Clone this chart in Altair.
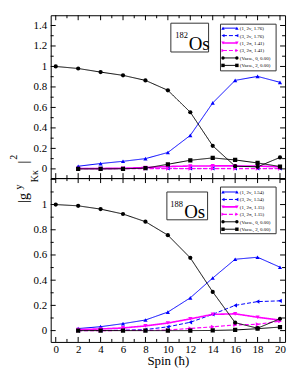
import altair as alt
import pandas as pd

FONT = "Liberation Serif"

spins = [0, 2, 4, 6, 8, 10, 12, 14, 16, 18, 20]
series_keys = ["s1", "s2", "s3", "s4", "s5", "s6"]

# 182Os
os182_1_2nu = [None, 0.026, 0.052, 0.074, 0.100, 0.160, 0.327, 0.644, 0.864, 0.903, 0.845]
os182_3_2nu = [None, 0.004, 0.004, 0.004, 0.004, 0.004, 0.004, 0.004, 0.004, 0.004, 0.004]
os182_1_2pi = [None, 0.003, 0.004, 0.006, 0.013, 0.023, 0.028, 0.029, 0.029, 0.028, 0.020]
os182_3_2pi = [None, 0.001, 0.001, 0.002, 0.003, 0.003, 0.003, 0.003, 0.003, 0.003, 0.003]
os182_vac0 = [1.000, 0.980, 0.945, 0.913, 0.864, 0.767, 0.553, 0.225, 0.026, 0.020, 0.112]
os182_vac2 = [None, 0.000, 0.000, 0.001, 0.007, 0.045, 0.084, 0.107, 0.087, 0.058, 0.023]
labels_182 = ["(1, 2\u03bd, 1.76)", "(3, 2\u03bd, 1.76)", "(1, 2\u03c0, 1.41)",
              "(3, 2\u03c0, 1.41)", "(Vacu., 0, 0.00)", "(Vacu., 2, 0.00)"]

# 188Os
os188_1_2nu = [None, 0.016, 0.031, 0.055, 0.084, 0.147, 0.260, 0.417, 0.566, 0.582, 0.503]
os188_3_2nu = [None, 0.000, 0.001, 0.003, 0.008, 0.030, 0.066, 0.129, 0.200, 0.230, 0.236]
os188_1_2pi = [None, 0.008, 0.013, 0.021, 0.037, 0.060, 0.093, 0.129, 0.133, 0.106, 0.083]
os188_3_2pi = [None, 0.000, 0.000, 0.001, 0.002, 0.004, 0.017, 0.030, 0.045, 0.050, 0.075]
os188_vac0 = [1.000, 0.990, 0.964, 0.925, 0.864, 0.757, 0.577, 0.307, 0.063, 0.019, 0.094]
os188_vac2 = [None, 0.000, 0.000, 0.000, 0.000, 0.000, 0.000, 0.001, 0.005, 0.015, 0.028]
labels_188 = ["(1, 2\u03bd, 1.54)", "(3, 2\u03bd, 1.54)", "(1, 2\u03c0, 1.15)",
              "(3, 2\u03c0, 1.15)", "(Vacu., 0, 0.00)", "(Vacu., 2, 0.00)"]

x_label_values = [0, 2, 4, 6, 8, 10, 12, 14, 16, 18, 20]
x_minor_values = [1, 3, 5, 7, 9, 11, 13, 15, 17, 19]
y_top_labels = [0, 0.2, 0.4, 0.6, 0.8, 1, 1.2, 1.4]
y_top_minor = [0.1, 0.3, 0.5, 0.7, 0.9, 1.1, 1.3]
y_bot_labels = [0, 0.2, 0.4, 0.6, 0.8, 1]
y_bot_major = [0, 0.2, 0.4, 0.6, 0.8, 1, 1.2]
y_bot_minor = [0.1, 0.3, 0.5, 0.7, 0.9, 1.1]

colors = ["#0000ff", "#0000ff", "#ff00ff", "#ff00ff", "#000000", "#000000"]
dashes = [[1, 0], [4, 2], [1, 0], [4, 2], [1, 0], [1, 0]]
shapes = ["triangle-up", "triangle-left", "triangle-down", "triangle-right", "circle", "square"]
widths = [1, 1, 1.6, 1.2, 1, 1]

W = 236
X_DOMAIN = [-0.45, 20.45]


def long_df(cols):
    rows = []
    for key, vals in zip(series_keys, cols):
        for s, v in zip(spins, vals):
            if v is not None:
                rows.append({"spin": s, "value": v, "series": key})
    return pd.DataFrame(rows)


dummy = pd.DataFrame({"k": [0]})


def panel(df, height, y_domain, y_labels, y_major, y_minor, show_x, legend_labels,
          leg_y0, iso_text, iso_box, iso_num_xy, iso_os_xy, title_pieces):
    xs = alt.Scale(domain=X_DOMAIN, nice=False, zero=False)
    ys = alt.Scale(domain=y_domain, nice=False, zero=False)
    if show_x:
        xaxis = alt.Axis(values=x_label_values, format="d", ticks=False, domain=False,
                         grid=False, labelFont=FONT, labelFontSize=11, labelPadding=2,
                         labelColor="black", title="Spin (\u0127)", titleFont=FONT,
                         titleFontSize=13, titleFontWeight="normal", titlePadding=0,
                         titleColor="black")
    else:
        xaxis = None
    yaxis = alt.Axis(values=y_labels, format="~g", ticks=False, domain=False, grid=False,
                     labelFont=FONT, labelFontSize=11, labelPadding=4,
                     labelColor="black", title="")

    def X(field="spin"):
        return alt.X(f"{field}:Q", scale=xs, axis=xaxis)

    def Y(field="value"):
        return alt.Y(f"{field}:Q", scale=ys, axis=yaxis)

    layers = []
    for key, col, dash, shp, sw in zip(series_keys, colors, dashes, shapes, widths):
        sub = df[df["series"] == key]
        layers.append(alt.Chart(sub).mark_line(color=col, strokeDash=dash, strokeWidth=sw,
                                               clip=True).encode(x=X(), y=Y()))
    for key, col, dash, shp, sw in zip(series_keys, colors, dashes, shapes, widths):
        sub = df[df["series"] == key]
        layers.append(alt.Chart(sub).mark_point(color=col, shape=shp, filled=True, size=18,
                                                opacity=1, clip=True).encode(x=X(), y=Y()))

    # inward ticks on all four sides
    ymaj = pd.DataFrame({"value": y_major})
    ymin = pd.DataFrame({"value": y_minor})
    xmaj = pd.DataFrame({"spin": x_label_values})
    xmin = pd.DataFrame({"spin": x_minor_values})
    for d, L in ((ymaj, 5), (ymin, 3)):
        layers.append(alt.Chart(d).mark_rule(color="black", strokeWidth=1).encode(
            y=Y(), x=alt.value(0), x2=alt.value(L)))
        layers.append(alt.Chart(d).mark_rule(color="black", strokeWidth=1).encode(
            y=Y(), x=alt.value(W), x2=alt.value(W - L)))
    for d, L in ((xmaj, 5), (xmin, 3)):
        layers.append(alt.Chart(d).mark_rule(color="black", strokeWidth=1).encode(
            x=X(), y=alt.value(height), y2=alt.value(height - L)))
        layers.append(alt.Chart(d).mark_rule(color="black", strokeWidth=1).encode(
            x=X(), y=alt.value(0), y2=alt.value(L)))

    # legend box
    layers.append(alt.Chart(dummy).mark_rect(fill="white", stroke="#333", strokeWidth=1).encode(
        x=alt.value(171), x2=alt.value(227), y=alt.value(9), y2=alt.value(56)))
    for i, (lab, col, dash, shp, sw) in enumerate(zip(legend_labels, colors, dashes, shapes, widths)):
        yy = leg_y0 + i * 7.5
        layers.append(alt.Chart(dummy).mark_rule(color=col, strokeDash=dash, strokeWidth=sw).encode(
            x=alt.value(173.5), x2=alt.value(187.5), y=alt.value(yy)))
        for xx in (173.5, 187.5):
            layers.append(alt.Chart(dummy).mark_point(color=col, shape=shp, filled=True, size=12,
                                                      opacity=1).encode(
                x=alt.value(xx), y=alt.value(yy)))
        layers.append(alt.Chart(dummy).mark_text(text=lab, align="left", baseline="middle",
                                                 font=FONT, fontSize=5, color="black").encode(
            x=alt.value(190.5), y=alt.value(yy)))

    # isotope box
    bx1, by1, bx2, by2 = iso_box
    layers.append(alt.Chart(dummy).mark_rect(fill="white", stroke="#333", strokeWidth=1).encode(
        x=alt.value(bx1), x2=alt.value(bx2), y=alt.value(by1), y2=alt.value(by2)))
    layers.append(alt.Chart(dummy).mark_text(text=iso_text, align="left", baseline="alphabetic",
                                             font=FONT, fontSize=8.5, color="black").encode(
        x=alt.value(iso_num_xy[0]), y=alt.value(iso_num_xy[1])))
    layers.append(alt.Chart(dummy).mark_text(text="Os", align="left", baseline="alphabetic",
                                             font=FONT, fontSize=19, color="black").encode(
        x=alt.value(iso_os_xy[0]), y=alt.value(iso_os_xy[1])))

    for txt, px, py, fs in title_pieces:
        layers.append(alt.Chart(dummy).mark_text(text=txt, angle=270, align="center",
                                                 baseline="alphabetic", font=FONT, fontSize=fs,
                                                 color="black").encode(
            x=alt.value(px), y=alt.value(py)))

    return alt.layer(*layers).properties(width=W, height=height)


df182 = long_df([os182_1_2nu, os182_3_2nu, os182_1_2pi, os182_3_2pi, os182_vac0, os182_vac2])
df188 = long_df([os188_1_2nu, os188_3_2nu, os188_1_2pi, os188_3_2pi, os188_vac0, os188_vac2])

top = panel(df182, 164, [-0.09, 1.5], y_top_labels, y_top_labels, y_top_minor, False,
            labels_182, 13.0, "182", (121, 8, 159, 37), (125.5, 23), (139, 35), [])

title_pieces = [
    ("|g", -23, 20, 14),
    ("y", -29, 9, 10),
    ("K\u03ba", -13, -2, 10),
    ("|", -23, -16, 14),
    ("2", -34, -21, 10),
]

bottom = panel(df188, 165, [-0.09, 1.21], y_bot_labels, y_bot_major, y_bot_minor, True,
               labels_188, 14.0, "188", (117, 14, 158, 42), (120.5, 29), (134.5, 40), title_pieces)

chart = alt.vconcat(top, bottom, spacing=0, bounds="flush").properties(
    padding={"left": 0, "top": 5, "right": 5, "bottom": 5},
    background="white",
).configure_view(stroke="black", strokeWidth=1)

chart.save("out.html", embed_options={"renderer": "svg", "actions": False})
